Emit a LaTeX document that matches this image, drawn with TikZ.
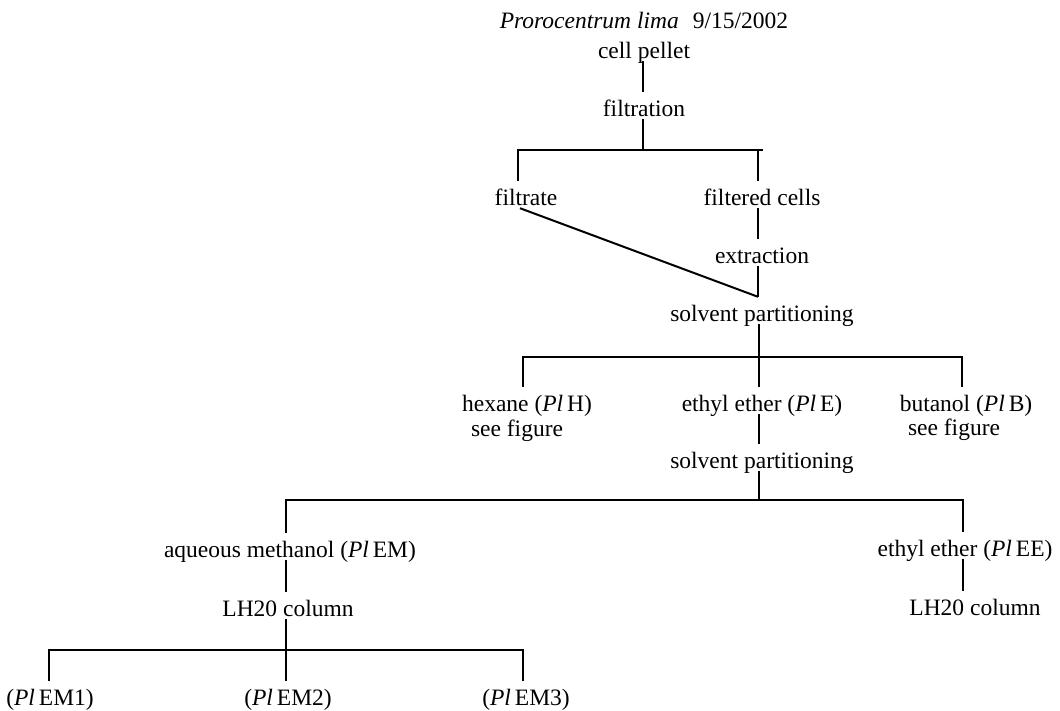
\documentclass[tikz,border=0pt]{standalone}
\usepackage{fontspec}
\setmainfont{Liberation Serif}
\newcommand{\Pl}{\textit{Pl}\,}
\begin{document}
\begin{tikzpicture}[x=1pt,y=-1pt,
  lbl/.style={anchor=base,inner sep=0pt,text height=24pt,text depth=3pt,
              font=\fontsize{23.5}{28}\selectfont},
  link/.style={line width=2pt,line join=miter}]
\useasboundingbox (0,0) rectangle (1060,710);

% labels (placed at their baselines)
\node[lbl] (title)      at (644,28)  {\textit{Prorocentrum lima}\hspace{0.35em} 9/15/2002};
\node[lbl] (cell)       at (644,58)  {cell pellet};
\node[lbl] (filtration) at (644,116) {filtration};
\node[lbl] (filtrate)   at (526,205) {filtrate};
\node[lbl] (filtered)   at (762,205) {filtered cells};
\node[lbl] (extraction) at (762,263) {extraction};
\node[lbl] (solv1)      at (762,321) {solvent partitioning};
\node[lbl] (hexane)     at (527,411) {hexane (\Pl H)};
\node[lbl] (hexsee)     at (517,436) {see figure};
\node[lbl] (ethE)       at (762,411) {ethyl ether (\Pl E)};
\node[lbl] (butanol)    at (966,411) {butanol (\Pl B)};
\node[lbl] (butsee)     at (954,435) {see figure};
\node[lbl] (solv2)      at (762,468) {solvent partitioning};
\node[lbl] (aqm)        at (290,557) {aqueous methanol (\Pl EM)};
\node[lbl] (ethEE)      at (965,556) {ethyl ether (\Pl EE)};
\node[lbl] (lhA)        at (288,616) {LH20 column};
\node[lbl] (lhB)        at (975,615) {LH20 column};
\node[lbl] (em1)        at (50,705)  {(\Pl EM1)};
\node[lbl] (em2)        at (288,705) {(\Pl EM2)};
\node[lbl] (em3)        at (526,705) {(\Pl EM3)};

% junction points of the branching bars
\coordinate (j1)  at (643,150);
\coordinate (b1l) at (518,150);
\coordinate (b1r) at (763,150);
\coordinate (t1r) at (758,150);
\coordinate (j2)  at (759,357);
\coordinate (b2l) at (523,357);
\coordinate (b2r) at (962,357);
\coordinate (j3)  at (759,500);
\coordinate (b3l) at (286,500);
\coordinate (b3r) at (963,500);
\coordinate (j4)  at (286,650);
\coordinate (b4l) at (49,650);
\coordinate (b4r) at (523,650);

% cell pellet -> filtration -> split
\draw[link] (j1 |- cell.south) -- (j1 |- filtration.north);
\draw[link] (j1 |- filtration.south) -- (j1);
\draw[link] (b1l |- filtrate.north) -- (b1l) -- (b1r);
\draw[link] (t1r) -- (t1r |- filtered.north);

% filtered cells -> extraction -> solvent partitioning, filtrate joins
\draw[link] (t1r |- filtered.south) -- (t1r |- extraction.north);
\draw[link] (t1r |- extraction.south) -- (t1r |- solv1.north);
\draw[link] ([xshift=-6pt]filtrate.south) -- (t1r |- solv1.north);

% first partitioning
\draw[link] (j2 |- solv1.south) -- (j2 |- ethE.north);
\draw[link] (b2l |- hexane.north) -- (b2l) -- (b2r) -- (b2r |- butanol.north);

% ethyl ether -> second partitioning
\draw[link] (j3 |- ethE.south) -- (j3 |- solv2.north);
\draw[link] (j3 |- solv2.south) -- (j3);
\draw[link] (b3l |- aqm.north) -- (b3l) -- (b3r) -- (b3r |- ethEE.north);

% LH20 columns
\draw[link] (b3l |- aqm.south) -- (b3l |- lhA.north);
\draw[link] (b3r |- ethEE.south) -- (b3r |- lhB.north);
\draw[link] (j4 |- lhA.south) -- (j4 |- em2.north);
\draw[link] (b4l |- em1.north) -- (b4l) -- (b4r) -- (b4r |- em3.north);
\end{tikzpicture}
\end{document}
